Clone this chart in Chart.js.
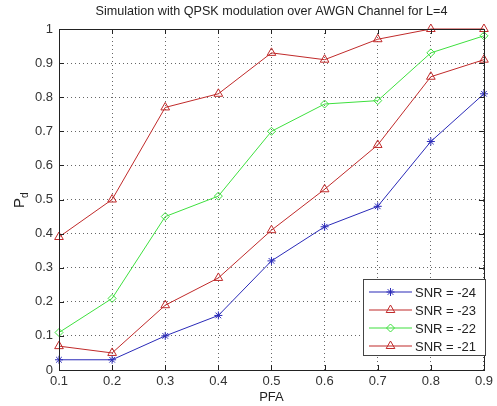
<!DOCTYPE html>
<html>
<head>
<meta charset="utf-8">
<script src="https://cdn.jsdelivr.net/npm/chart.js@4/dist/chart.umd.min.js"></script>
<style>
  html, body { margin: 0; padding: 0; background: #fff; }
  #wrap { width: 497px; height: 406px; }
</style>
</head>
<body>
<div id="wrap"><canvas id="chart" width="497" height="406"></canvas></div>
<script>
// Data
const pfa = [0.1, 0.2, 0.3, 0.4, 0.5, 0.6, 0.7, 0.8, 0.9];
const snrM24 = [0.03, 0.03, 0.10, 0.16, 0.32, 0.42, 0.48, 0.67, 0.81];
const snrM23 = [0.07, 0.05, 0.19, 0.27, 0.41, 0.53, 0.66, 0.86, 0.91];
const snrM22 = [0.11, 0.21, 0.45, 0.51, 0.70, 0.78, 0.79, 0.93, 0.98];
const snrM21 = [0.39, 0.50, 0.77, 0.81, 0.93, 0.91, 0.97, 1.00, 1.00];
const seriesLabels = ['SNR = -24', 'SNR = -23', 'SNR = -22', 'SNR = -21'];
const xTicks = [0.1, 0.2, 0.3, 0.4, 0.5, 0.6, 0.7, 0.8, 0.9];
const yTicks = [0, 0.1, 0.2, 0.3, 0.4, 0.5, 0.6, 0.7, 0.8, 0.9, 1];
const titleText = 'Simulation with QPSK modulation over AWGN Channel for L=4';
const xLabel = 'PFA';

const FONT = '"Liberation Sans", Arial, sans-serif';

function toPoints(ys) {
  return pfa.map((x, i) => ({ x: x, y: ys[i] }));
}

function makeSet(label, ys, color, style, radius) {
  return {
    label: label,
    data: toPoints(ys),
    borderColor: color,
    backgroundColor: 'rgba(0,0,0,0)',
    pointBorderColor: color,
    pointBackgroundColor: 'rgba(0,0,0,0)',
    pointStyle: style,
    pointRadius: radius,
    pointBorderWidth: 1,
    borderWidth: 1,
    tension: 0,
    clip: false
  };
}

// Box, inner ticks, title, y label and in-plot legend (MATLAB look)
const matlabFrame = {
  id: 'matlabFrame',
  afterDraw(chart) {
    const ctx = chart.ctx;
    const a = chart.chartArea;
    const xs = chart.scales.x;
    const ys = chart.scales.y;
    ctx.save();

    // axes box
    ctx.strokeStyle = '#222';
    ctx.lineWidth = 1;
    ctx.strokeRect(Math.round(a.left) + 0.5, Math.round(a.top) + 0.5,
      Math.round(a.right - a.left), Math.round(a.bottom - a.top));

    // inner tick marks on all four sides
    const tl = 5;
    ctx.beginPath();
    xTicks.forEach(v => {
      const px = Math.round(xs.getPixelForValue(v)) + 0.5;
      ctx.moveTo(px, a.bottom); ctx.lineTo(px, a.bottom - tl);
      ctx.moveTo(px, a.top); ctx.lineTo(px, a.top + tl);
    });
    yTicks.forEach(v => {
      const py = Math.round(ys.getPixelForValue(v)) + 0.5;
      ctx.moveTo(a.left, py); ctx.lineTo(a.left + tl, py);
      ctx.moveTo(a.right, py); ctx.lineTo(a.right - tl, py);
    });
    ctx.stroke();

    // title
    ctx.fillStyle = '#222';
    ctx.font = '12.6px ' + FONT;
    ctx.textAlign = 'center';
    ctx.textBaseline = 'middle';
    ctx.fillText(titleText, (a.left + a.right) / 2, 12);

    // x label
    ctx.font = '13px ' + FONT;
    ctx.fillText(xLabel, (a.left + a.right) / 2, 397);

    // y label P_d
    ctx.save();
    ctx.translate(24, 208);
    ctx.rotate(-Math.PI / 2);
    ctx.textAlign = 'left';
    ctx.textBaseline = 'alphabetic';
    ctx.font = '15px ' + FONT;
    ctx.fillText('P', 0, 0);
    const pw = ctx.measureText('P').width;
    ctx.font = '10px ' + FONT;
    ctx.fillText('d', pw, 4);
    ctx.restore();

    // legend inside the plot
    const lx = 363, ly = 279, lw = 122, lh = 76;
    ctx.fillStyle = '#fff';
    ctx.fillRect(lx, ly, lw, lh);
    ctx.strokeStyle = '#444';
    ctx.strokeRect(lx + 0.5, ly + 0.5, lw, lh);
    ctx.font = '13px ' + FONT;
    ctx.textAlign = 'left';
    ctx.textBaseline = 'middle';
    chart.data.datasets.forEach((ds, i) => {
      const y = ly + 13 + i * 18;
      ctx.strokeStyle = ds.borderColor;
      ctx.lineWidth = 1.2;
      ctx.beginPath();
      ctx.moveTo(lx + 6, y); ctx.lineTo(lx + 49, y);
      ctx.stroke();
      ctx.lineWidth = 1;
      ctx.fillStyle = 'rgba(0,0,0,0)';
      Chart.helpers.drawPoint(ctx, {
        pointStyle: ds.pointStyle, radius: ds.pointRadius, rotation: 0, borderWidth: 1
      }, lx + 27.5, y);
      ctx.fillStyle = '#222';
      ctx.fillText(ds.label, lx + 52, y + 1);
    });

    ctx.restore();
  }
};

const blue = '#2a2ab8';
const red = '#c02a2a';
const green = '#3ee03e';

new Chart(document.getElementById('chart'), {
  type: 'line',
  data: {
    datasets: [
      makeSet(seriesLabels[0], snrM24, blue, 'star', 4),
      makeSet(seriesLabels[1], snrM23, red, 'triangle', 5),
      makeSet(seriesLabels[2], snrM22, green, 'rectRot', 4),
      makeSet(seriesLabels[3], snrM21, red, 'triangle', 5)
    ]
  },
  options: {
    responsive: false,
    animation: false,
    devicePixelRatio: 1,
    layout: { padding: { top: 29, right: 8, left: 0, bottom: 0 } },
    plugins: {
      legend: { display: false },
      title: { display: false },
      tooltip: { enabled: false }
    },
    scales: {
      x: {
        type: 'linear',
        min: 0.1,
        max: 0.9,
        afterBuildTicks: s => { s.ticks = xTicks.map(v => ({ value: v })); },
        afterFit: s => { s.height = 36; },
        ticks: {
          padding: 4,
          color: '#333',
          font: { size: 13, family: FONT },
          maxRotation: 0,
          callback: v => v.toFixed(1)
        },
        grid: { color: 'rgba(0,0,0,0.6)', lineWidth: 1, drawTicks: false },
        border: { display: false, dash: [1, 3] }
      },
      y: {
        type: 'linear',
        min: 0,
        max: 1,
        afterBuildTicks: s => { s.ticks = yTicks.map(v => ({ value: v })); },
        afterFit: s => { s.width = 59; },
        ticks: {
          padding: 6,
          color: '#333',
          font: { size: 13, family: FONT },
          callback: v => (v === 0 ? '0' : v === 1 ? '1' : v.toFixed(1))
        },
        grid: { color: 'rgba(0,0,0,0.6)', lineWidth: 1, drawTicks: false },
        border: { display: false, dash: [1, 3] }
      }
    }
  },
  plugins: [matlabFrame]
});
</script>
</body>
</html>
